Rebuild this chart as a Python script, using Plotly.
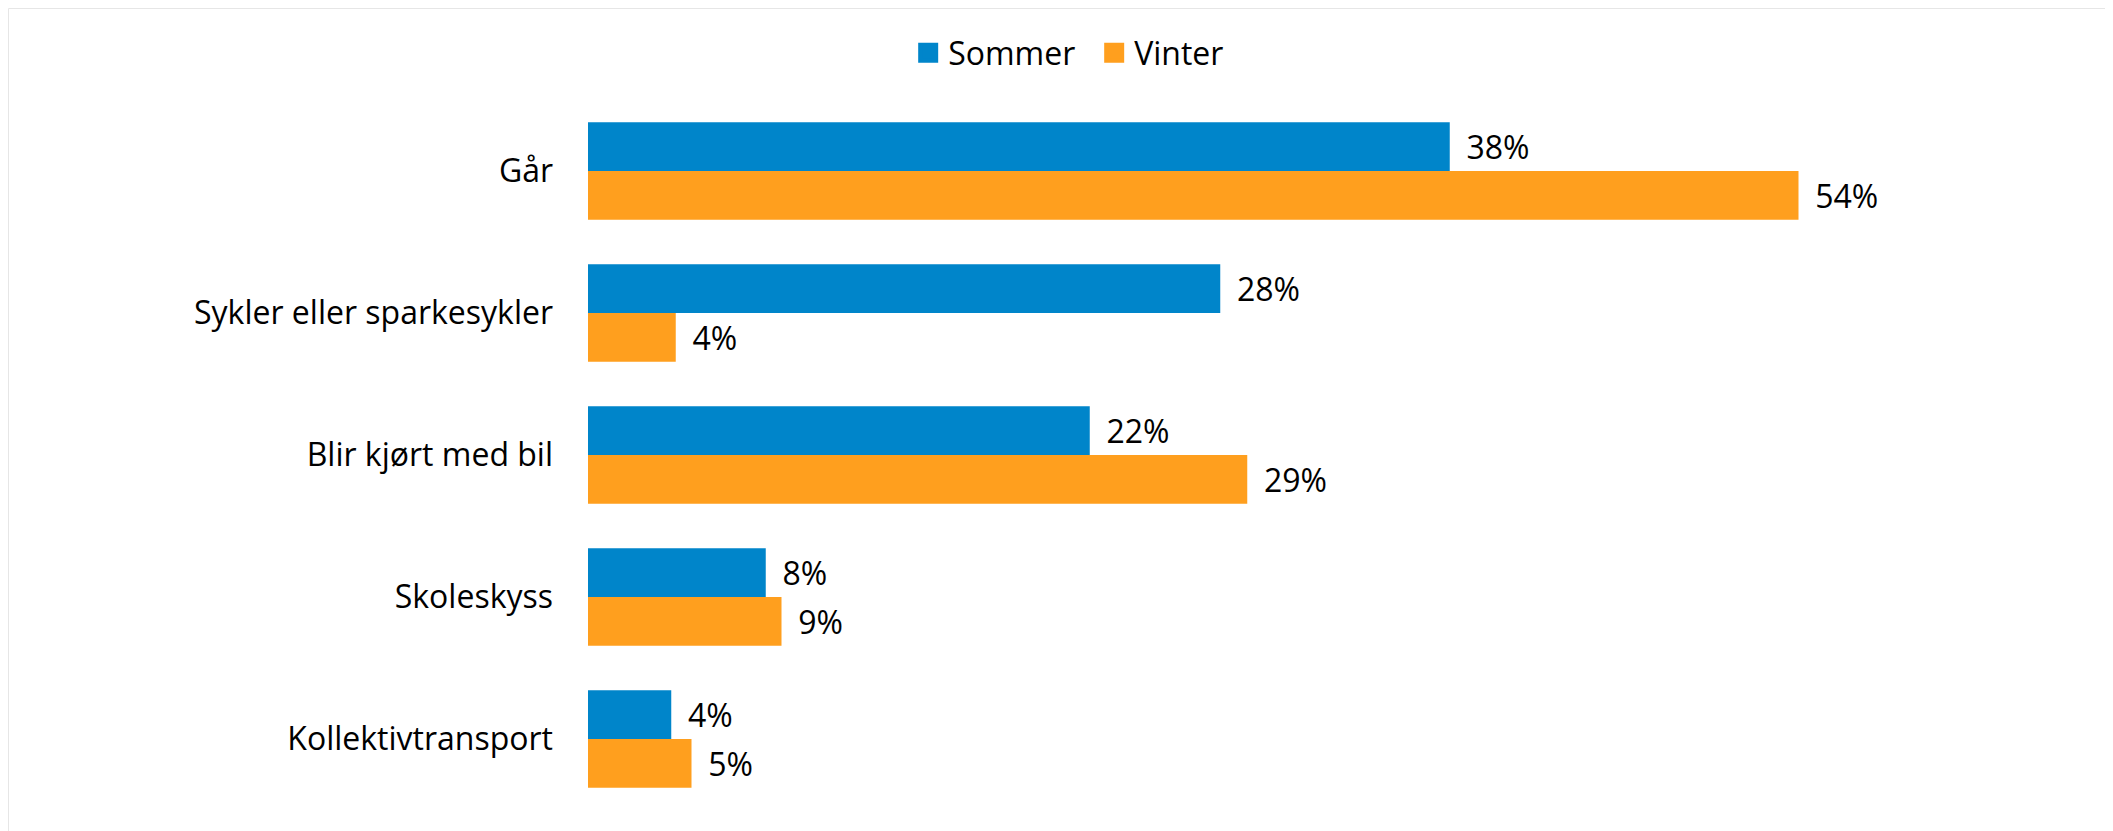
import plotly.graph_objects as go

categories = ["Går", "Sykler eller sparkesykler", "Blir kjørt med bil", "Skoleskyss", "Kollektivtransport"]
sommer = [38.3, 28.1, 22.3, 7.9, 3.7]
vinter = [53.8, 3.9, 29.3, 8.6, 4.6]
series_names = ["Sommer", "Vinter"]
colors = ["#0085CA", "#FF9F1E"]

# the page body has an 8px margin, so the figure is sized to fit inside the window
W, H = 2105, 823
L, R, T, B = 580, 175, 92, 21
xmax = 60

fig = go.Figure()
for name, vals, col in zip(series_names, [sommer, vinter], colors):
    fig.add_trace(go.Bar(
        y=categories, x=vals, name=name, orientation="h",
        marker=dict(color=col, line=dict(width=0)),
        texttemplate="\u00a0\u2009%{x:.0f}%", textposition="outside",
        textfont=dict(size=32, color="#000000", family="Open Sans"),
        cliponaxis=False, showlegend=False,
    ))
# legend entries with larger square keys
for name, col in zip(series_names, colors):
    fig.add_trace(go.Scatter(
        x=[None], y=[None], mode="markers", name=name,
        marker=dict(symbol="square", size=16, color=col, line=dict(color=col, width=4)),
        showlegend=True,
    ))

pw = W - L - R
ph = H - T - B
fig.add_shape(type="rect", xref="paper", yref="paper",
              x0=(0.5 - L) / pw, x1=(W + 10 - L) / pw,
              y0=-(B + 10) / ph, y1=(H - B - 0.5) / ph,
              line=dict(color="#E6E6E6", width=1), fillcolor="rgba(0,0,0,0)", layer="below")

fig.update_layout(
    width=W, height=H, autosize=False,
    margin=dict(l=L, r=R, t=T, b=B, pad=0),
    paper_bgcolor="white", plot_bgcolor="white",
    barmode="group", bargap=0.312, bargroupgap=0,
    font=dict(family="Open Sans", size=32, color="#000000"),
    showlegend=True,
    legend=dict(orientation="h", xref="container", yref="container",
                x=0.516, xanchor="center", y=1 - 45 / H, yanchor="middle",
                font=dict(size=32, color="#000000"), itemwidth=30,
                entrywidth=141, traceorder="normal"),
    xaxis=dict(range=[0, xmax], visible=False, showgrid=False, zeroline=False),
    yaxis=dict(categoryorder="array", categoryarray=categories, autorange="reversed",
               showgrid=False, zeroline=False, showline=False, ticks="",
               ticklabelstandoff=34,
               tickfont=dict(size=32, color="#000000")),
)

fig.write_html("out.html")
